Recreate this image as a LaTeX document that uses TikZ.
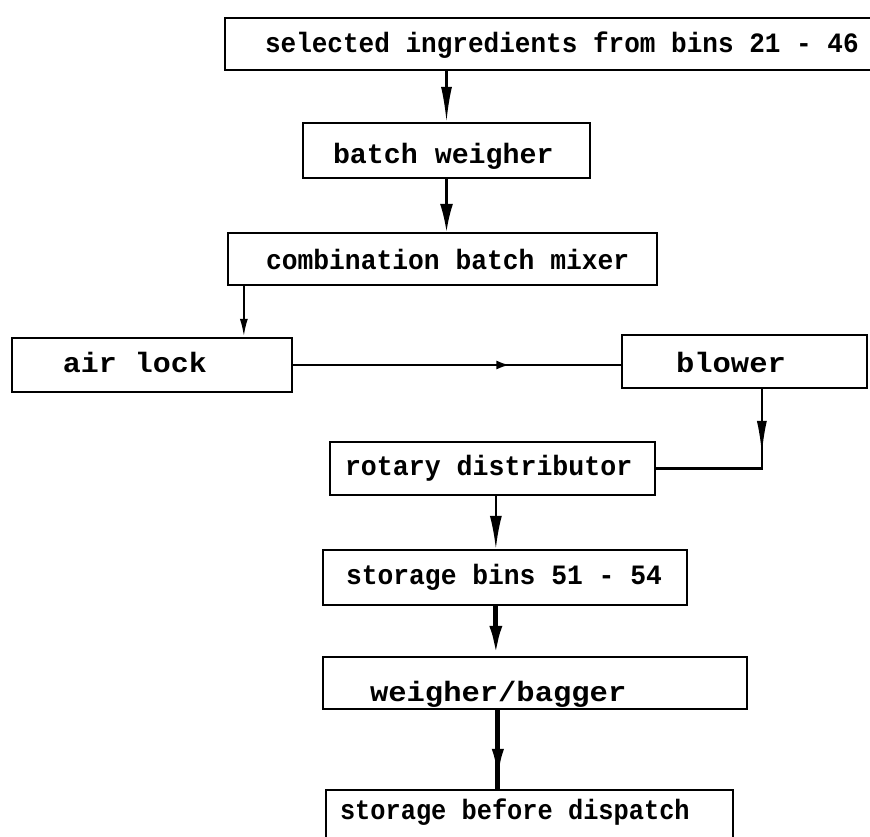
\documentclass[tikz,border=0pt]{standalone}
\usepackage{fontspec}
\usetikzlibrary{arrows.meta,calc,decorations.markings}
\newfontfamily\twfont{Liberation Mono}
% label inside a box: width, left pad, vertical shift, horizontal stretch, text
\newcommand\bxt[5]{\makebox[#1pt][l]{\hspace*{#2pt}\raisebox{#3pt}{\scalebox{#4}[1]{#5}}}}
\tikzset{
  pbox/.style={draw, line width=2.3pt, inner sep=0pt, text height=20pt, text depth=6pt,
    font=\twfont\bfseries\fontsize{28pt}{30pt}\selectfont},
  conn/.style={line width=2.2pt},
  heavyconn/.style={line width=4.8pt},
}
\begin{document}
\begin{tikzpicture}[x=1pt,y=-1pt]
\useasboundingbox (0,0) rectangle (870,837);

\node[pbox, minimum width=649pt, minimum height=52pt] (sel) at (549.5,44)
  {\bxt{649}{40}{-2}{0.93}{selected ingredients from bins 21 - 46}};
\node[pbox, minimum width=287pt, minimum height=55pt] (batch) at (446.5,150.5)
  {\bxt{287}{30}{-6}{1.01}{batch weigher}};
\node[pbox, minimum width=429pt, minimum height=52pt] (comb) at (442.5,259)
  {\bxt{429}{38}{-3}{0.94}{combination batch mixer}};
\node[pbox, minimum width=280pt, minimum height=54pt] (air) at (152,365)
  {\bxt{280}{51}{0}{1.07}{air lock}};
\node[pbox, minimum width=245pt, minimum height=53pt] (blower) at (744.5,361.5)
  {\bxt{245}{54}{-3.5}{1.09}{blower}};
\node[pbox, minimum width=325pt, minimum height=53pt] (rotary) at (492.5,468.5)
  {\bxt{325}{15}{0}{0.95}{rotary distributor}};
\node[pbox, minimum width=364pt, minimum height=55pt] (bins) at (505,577.5)
  {\bxt{364}{23}{0}{0.94}{storage bins 51 - 54}};
\node[pbox, minimum width=424pt, minimum height=52pt] (weigher) at (535,683)
  {\bxt{424}{47}{-11}{1.09}{weigher/bagger}};
\node[pbox, minimum width=407pt, minimum height=60pt] (dispatch) at (529.5,820)
  {\bxt{407}{14}{8}{0.905}{storage before dispatch}};

% feed line
\draw[conn, -{Latex[length=35pt,width=11pt]}] (batch.north |- sel.south) -- (batch.north);
\draw[conn, -{Latex[length=28pt,width=13pt]}] (batch.south) -- (batch.south |- comb.north);
\coordinate (c3) at ($(comb.south west)+(17,0)$);
\draw[conn, -{Latex[length=18pt,width=8pt]}] (c3) -- (c3 |- air.north);

% pneumatic transfer
\draw[conn, postaction={decorate}, decoration={markings,
  mark=at position 0.66 with {\arrow{Latex[length=13pt,width=9pt]}}}]
  (air.east) -- (air.east -| blower.west);
\coordinate (c5) at ($(blower.south west)+(141,0)$);
\draw[conn, postaction={decorate}, decoration={markings,
  mark=at position 0.35 with {\arrow{Latex[length=33pt,width=10pt]}}}]
  (c5) |- (rotary.east);

% distribution and bagging
\coordinate (c6) at ($(rotary.south west)+(167,0)$);
\draw[conn, -{Latex[length=33pt,width=12pt]}] (c6) -- (c6 |- bins.north);
\coordinate (c7) at ($(bins.south west)+(174,0)$);
\draw[heavyconn, -{Latex[length=30pt,width=13pt]}] (c7) -- (c7 |- weigher.north);
\coordinate (c8) at ($(weigher.south west)+(176,0)$);
\draw[heavyconn, postaction={decorate}, decoration={markings,
  mark=at position 0.91 with {\arrow{Latex[length=33pt,width=12pt]}}}]
  (c8) -- (c8 |- dispatch.north);
\end{tikzpicture}
\end{document}
